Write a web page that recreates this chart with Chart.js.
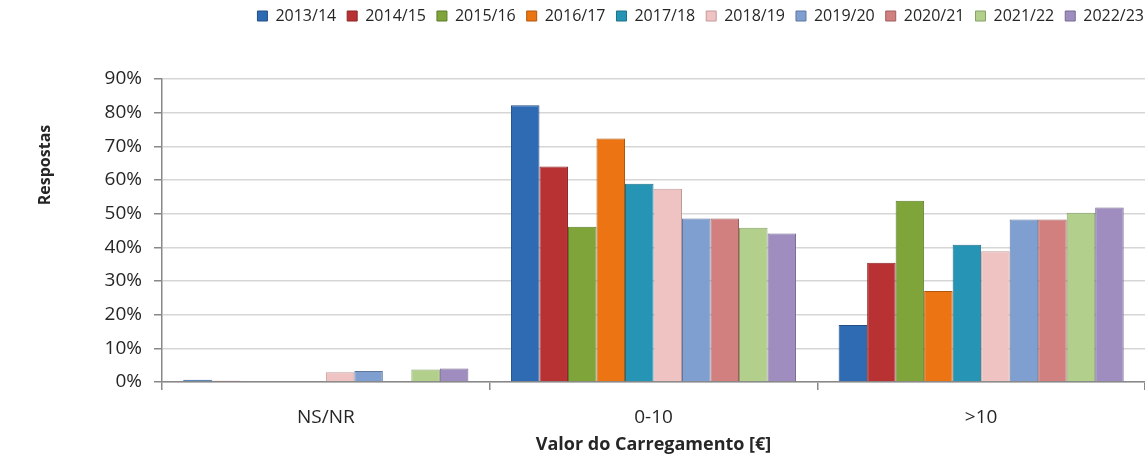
<!DOCTYPE html>
<html>
<head>
<meta charset="utf-8">
<script src="https://cdn.jsdelivr.net/npm/chart.js@4"></script>
<style>
html,body{margin:0;padding:0;background:#fff;}
#wrap{width:1145px;height:457px;position:relative;}
</style>
</head>
<body>
<div id="wrap"><canvas id="c" width="1145" height="457"></canvas></div>
<script>
const categories = ["NS/NR", "0-10", ">10"];
const seasons = ["2013/14","2014/15","2015/16","2016/17","2017/18","2018/19","2019/20","2020/21","2021/22","2022/23"];
const v2013 = [0.7, 82.2, 16.9];
const v2014 = [0.4, 64.0, 35.4];
const v2015 = [0, 46.1, 53.8];
const v2016 = [0, 72.3, 27.0];
const v2017 = [0, 58.9, 40.8];
const v2018 = [2.9, 57.4, 38.8];
const v2019 = [3.3, 48.6, 48.3];
const v2020 = [0, 48.6, 48.3];
const v2021 = [3.7, 45.8, 50.3];
const v2022 = [4.0, 44.1, 51.8];
const seriesValues = [v2013, v2014, v2015, v2016, v2017, v2018, v2019, v2020, v2021, v2022];
const colors = ["#2f6bb3","#b93233","#7fa43a","#ec7412","#2695b5","#f0c3c3","#7f9fd0","#d17f7f","#b3cf8c","#9f8dc0"];
const borders = ["#234f86","#8a2526","#5f7b2b","#b1570d","#1c7088","#c09a9a","#5f779c","#9c5f5f","#86a069","#776a90"];
const yTicks = [0,10,20,30,40,50,60,70,80,90];

const FONT = "'Open Sans', 'Liberation Sans', sans-serif";

const datasets = seasons.map((s, i) => ({
  label: s,
  data: seriesValues[i],
  backgroundColor: colors[i],
  borderColor: borders[i],
  borderWidth: 1,
  borderSkipped: 'bottom'
}));

const layoutPlugin = {
  id: 'layoutFix',
  beforeLayout(chart) {
    const lg = chart.legend;
    if (lg && !lg._patched) {
      const orig = lg.fit;
      lg.fit = function () { orig.call(this); this.height = 82; };
      lg._patched = true;
    }
  },
  afterLayout(chart) {
    if (chart.legend) { chart.legend.right += 10; }
  },
  afterDraw(chart) {
    const ctx = chart.ctx;
    ctx.save();
    ctx.translate(45, 165);
    ctx.rotate(-Math.PI / 2);
    ctx.font = "bold 16px " + FONT;
    ctx.fillStyle = "#262626";
    ctx.textAlign = "center";
    ctx.textBaseline = "middle";
    ctx.fillText("Respostas", 0, 0);
    ctx.restore();
  }
};

new Chart(document.getElementById('c'), {
  type: 'bar',
  data: { labels: categories, datasets },
  plugins: [layoutPlugin],
  options: {
    responsive: false,
    animation: false,
    layout: { padding: { top: -3, left: 0, right: 0, bottom: 0 } },
    plugins: {
      legend: {
        position: 'top',
        align: 'end',
        labels: {
          boxWidth: 10,
          boxHeight: 10,
          padding: 11,
          color: '#262626',
          font: { family: FONT, size: 16 }
        }
      },
      tooltip: { enabled: false }
    },
    datasets: { bar: { categoryPercentage: 0.87, barPercentage: 1.0 } },
    scales: {
      x: {
        afterFit(scale) { scale.height = 75; },
        grid: { offset: true, drawOnChartArea: false, tickLength: 8, tickColor: '#888', lineWidth: 1.5 },
        border: { color: '#888', width: 1.5 },
        ticks: { color: '#262626', padding: 16, font: { family: FONT, size: 19 } },
        title: { display: true, text: 'Valor do Carregamento [€]', color: '#262626',
                 font: { family: FONT, size: 18, weight: 'bold' }, padding: { top: 0, bottom: 1 } }
      },
      y: {
        min: 0, max: 90,
        afterFit(scale) { scale.width = 162; },
        afterBuildTicks(scale) { scale.ticks = yTicks.map(v => ({ value: v })); },
        grid: { color: '#d6d6d6', lineWidth: 1.5, tickLength: 8, tickColor: '#888' },
        border: { color: '#888', width: 1.5 },
        ticks: { color: '#262626', padding: 12, font: { family: FONT, size: 19 },
                 callback: v => v + '%' }
      }
    }
  }
});
</script>
</body>
</html>
